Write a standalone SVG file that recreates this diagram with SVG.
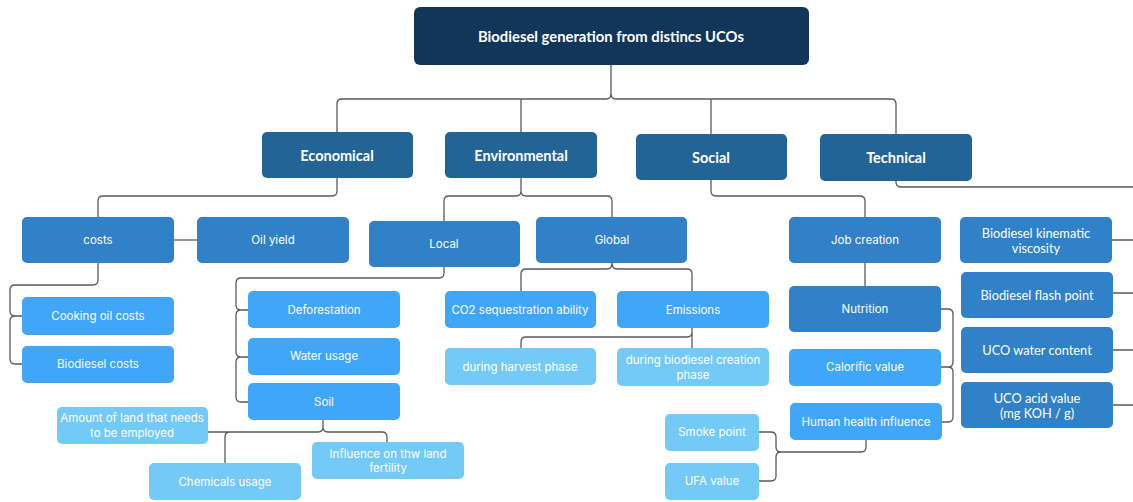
<svg xmlns="http://www.w3.org/2000/svg" width="1133" height="502" viewBox="0 0 1133 502">
<style>
.c{fill:none;stroke:#555a60;stroke-width:1.3}
.n0{fill:#12365a}
.n1{fill:#236497}
.n2{fill:#3081c8}
.n3{fill:#40a6f8}
.n4{fill:#74caf6}
text{fill:#fff;text-anchor:middle;dominant-baseline:central}
.tb{font-family:Lato,"Liberation Sans",sans-serif;font-weight:700;font-size:14.5px}
.tr{font-family:Inter,"Liberation Sans",sans-serif;font-size:11.5px}
.tg{font-family:Lato,"Liberation Sans",sans-serif;font-size:12.8px}
</style>
<rect width="1133" height="502" fill="#ffffff"/>
<g id="connectors">
<path class="c" d="M611,65 V94 Q611,99 606,99 H342 Q337,99 337,104 V132"/>
<path class="c" d="M611,94 Q611,99 616,99 H891 Q896,99 896,104 V134"/>
<path class="c" d="M521,99 V132 M711,99 V134"/>
<path class="c" d="M337,178 V191 Q337,196 332,196 H103 Q98,196 98,201 V217"/>
<path class="c" d="M174,240 H197"/>
<path class="c" d="M98,263 V280 Q98,285 93,285 H15 Q10,285 10,290 V311 Q10,316 15,316 H22 M15,316 Q10,316 10,321 V359 Q10,364 15,364 H22"/>
<path class="c" d="M521,178 V191 Q521,196 516,196 H449 Q444,196 444,201 V221 M521,191 Q521,196 526,196 H607 Q612,196 612,201 V217"/>
<path class="c" d="M444,267 V273 Q444,278 439,278 H241 Q236,278 236,283 V305 Q236,310 241,310 H248 M241,310 Q236,310 236,315 V352 Q236,357 241,357 H248 M241,357 Q236,357 236,362 V397 Q236,402 241,402 H248"/>
<path class="c" d="M612,263 Q612,269 607,269 H526 Q521,269 521,274 V291 M612,263 Q612,269 617,269 H687 Q692,269 692,274 V291"/>
<path class="c" d="M692,328 V349 M692,332 Q692,337 687,337 H526 Q521,337 521,342 V348"/>
<path class="c" d="M323,420 V427 Q323,432 318,432 H230 Q225,432 225,437 V463 M230,432 H208 M323,427 Q323,432 328,432 H382 Q387,432 387,437 V442"/>
<path class="c" d="M711,180 V191 Q711,196 716,196 H860 Q865,196 865,201 V217"/>
<path class="c" d="M865,263 V286"/>
<path class="c" d="M940,309 H948 Q953,309 953,314 V362 Q953,367 948,367 H940 M948,367 Q953,367 953,372 V417 Q953,422 948,422 H941"/>
<path class="c" d="M866,440 V447 Q866,452 861,452 H781 Q776,452 776,447 V437 Q776,432 771,432 H759 M781,452 Q776,452 776,457 V476 Q776,481 771,481 H759"/>
<path class="c" d="M896,180 V182 Q896,187 901,187 H1133"/>
<path class="c" d="M1112,240 H1133 M1113,293 H1133 M1113,350 H1133 M1113,405 H1133"/>
</g>
<g id="root"><rect class="n0" x="414" y="7" width="395" height="58" rx="6"/><text class="tb" x="611" y="36" style="font-size:14.8px">Biodiesel generation from distincs UCOs</text></g>
<g id="economical"><rect class="n1" x="262" y="132" width="151" height="46" rx="5"/><text class="tb" x="337" y="155">Economical</text></g>
<g id="environmental"><rect class="n1" x="445" y="132" width="152" height="46" rx="5"/><text class="tb" x="521" y="155">Environmental</text></g>
<g id="social"><rect class="n1" x="636" y="134" width="151" height="46" rx="5"/><text class="tb" x="711" y="157">Social</text></g>
<g id="technical"><rect class="n1" x="820" y="134" width="152" height="47" rx="5"/><text class="tb" x="896" y="157">Technical</text></g>
<g id="costs"><rect class="n2" x="22" y="217" width="152" height="46" rx="5"/><text class="tr" x="98" y="240">costs</text></g>
<g id="oil-yield"><rect class="n2" x="197" y="217" width="152" height="46" rx="5"/><text class="tr" x="273" y="240">Oil yield</text></g>
<g id="local"><rect class="n2" x="369" y="221" width="151" height="46" rx="5"/><text class="tr" x="444" y="244">Local</text></g>
<g id="global"><rect class="n2" x="536" y="217" width="151" height="46" rx="5"/><text class="tr" x="612" y="240">Global</text></g>
<g id="job-creation"><rect class="n2" x="789" y="217" width="152" height="46" rx="5"/><text class="tr" x="865" y="240">Job creation</text></g>
<g id="nutrition"><rect class="n2" x="789" y="286" width="152" height="46" rx="5"/><text class="tr" x="865" y="309">Nutrition</text></g>
<g id="cooking-oil-costs"><rect class="n3" x="22" y="297" width="152" height="38" rx="5"/><text class="tr" x="98" y="316">Cooking oil costs</text></g>
<g id="biodiesel-costs"><rect class="n3" x="22" y="346" width="152" height="37" rx="5"/><text class="tr" x="98" y="364">Biodiesel costs</text></g>
<g id="deforestation"><rect class="n3" x="248" y="291" width="152" height="37" rx="5"/><text class="tr" x="324" y="310">Deforestation</text></g>
<g id="water-usage"><rect class="n3" x="248" y="338" width="152" height="37" rx="5"/><text class="tr" x="324" y="356">Water usage</text></g>
<g id="soil"><rect class="n3" x="248" y="383" width="152" height="37" rx="5"/><text class="tr" x="324" y="402">Soil</text></g>
<g id="co2"><rect class="n3" x="445" y="291" width="151" height="37" rx="5"/><text class="tr" x="520" y="310">CO2 sequestration ability</text></g>
<g id="emissions"><rect class="n3" x="617" y="291" width="152" height="37" rx="5"/><text class="tr" x="693" y="310">Emissions</text></g>
<g id="calorific"><rect class="n3" x="789" y="349" width="152" height="37" rx="5"/><text class="tr" x="865" y="367">Calorific value</text></g>
<g id="human-health"><rect class="n3" x="790" y="403" width="152" height="37" rx="5"/><text class="tr" x="866" y="422">Human health influence</text></g>
<g id="harvest"><rect class="n4" x="445" y="348" width="151" height="37" rx="5"/><text class="tr" x="520" y="367">during harvest phase</text></g>
<g id="creation"><rect class="n4" x="617" y="348" width="152" height="38" rx="5"/><text class="tr" x="693" y="360">during biodiesel creation</text><text class="tr" x="693" y="375">phase</text></g>
<g id="amount-land"><rect class="n4" x="57" y="407" width="151" height="37" rx="5"/><text class="tr" x="132" y="418">Amount of land that needs</text><text class="tr" x="132" y="433">to be employed</text></g>
<g id="chemicals"><rect class="n4" x="149" y="463" width="152" height="37" rx="5"/><text class="tr" x="225" y="482">Chemicals usage</text></g>
<g id="fertility"><rect class="n4" x="312" y="442" width="152" height="37" rx="5"/><text class="tr" x="388" y="454">Influence on thw land</text><text class="tr" x="388" y="468">fertility</text></g>
<g id="smoke-point"><rect class="n4" x="665" y="414" width="94" height="37" rx="5"/><text class="tr" x="712" y="432">Smoke point</text></g>
<g id="ufa"><rect class="n4" x="665" y="463" width="94" height="37" rx="5"/><text class="tr" x="712" y="481">UFA value</text></g>
<g id="viscosity"><rect class="n2" x="960" y="217" width="152" height="46" rx="5"/><text class="tg" x="1036" y="233">Biodiesel kinematic</text><text class="tg" x="1036" y="248">viscosity</text></g>
<g id="flash-point"><rect class="n2" x="961" y="272" width="152" height="46" rx="5"/><text class="tg" x="1037" y="295">Biodiesel flash point</text></g>
<g id="water-content"><rect class="n2" x="961" y="327" width="152" height="46" rx="5"/><text class="tg" x="1037" y="350">UCO water content</text></g>
<g id="acid-value"><rect class="n2" x="961" y="382" width="152" height="46" rx="5"/><text class="tg" x="1037" y="398">UCO acid value</text><text class="tg" x="1037" y="413">(mg KOH / g)</text></g>
</svg>
